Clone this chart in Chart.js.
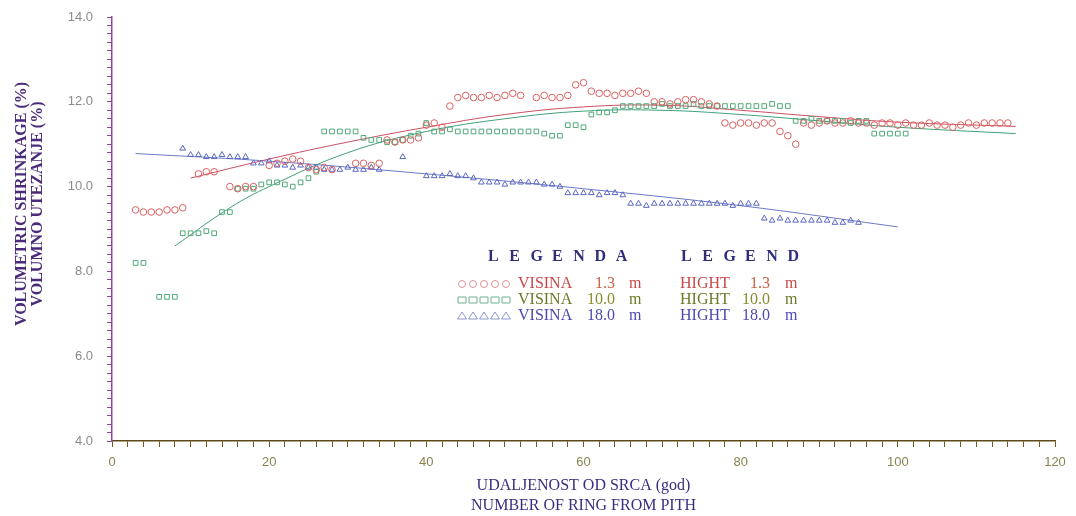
<!DOCTYPE html>
<html>
<head>
<meta charset="utf-8">
<script src="https://cdn.jsdelivr.net/npm/chart.js@4/dist/chart.umd.min.js"></script>
<style>
  html, body { margin: 0; padding: 0; background: #fff; }
  #wrap { width: 1076px; height: 516px; }
</style>
</head>
<body>
<div id="wrap"><canvas id="chart" width="1076" height="516"></canvas></div>
<script>
// visina 1.3 m (krugovi)
const ring13 = [3,4,5,6,7,8,9, 11,12,13, 15,16,17,18, 20,21,22,23,24, 25,26,27,28, 31,32,33,34,
  35,36,37,38,39, 40,41,42, 43,44,45,46,47,48,49,50,51,52, 54,55,56,57,58, 59,60,
  61,62,63,64,65,66,67,68, 69,70,71,72,73,74,75,76,77, 78,79,80,81,82,83,84, 85,86,87,
  88,89,90,91,92,93,94,95,96,97,98,99,100,101,102,103,104,105,106,107,108,109,110,111,112,113,114];
const shrink13 = [9.45,9.4,9.4,9.4,9.45,9.45,9.5, 10.3,10.35,10.35, 10.0,9.95,10.0,10.0,
  10.5,10.55,10.6,10.65,10.6, 10.45,10.4,10.45,10.4, 10.55,10.55,10.5,10.55,
  11.1,11.05,11.1,11.1,11.15, 11.45,11.5,11.4, 11.9,12.1,12.15,12.1,12.1,12.15,12.1,12.15,12.2,12.15,
  12.1,12.15,12.1,12.1,12.15, 12.4,12.45, 12.25,12.2,12.2,12.15,12.2,12.2,12.25,12.2,
  12.0,12.0,11.95,12.0,12.05,12.05,12.0,11.95,11.9, 11.5,11.45,11.5,11.5,11.45,11.5,11.5,
  11.3,11.2,11.0,
  11.5,11.45,11.5,11.55,11.5,11.5,11.55,11.5,11.5,11.45,11.5,11.5,11.45,11.5,11.45,11.45,
  11.5,11.45,11.45,11.4,11.45,11.5,11.45,11.5,11.5,11.5,11.5];

// visina 10.0 m (kvadrati)
const ring100 = [3,4, 6,7,8, 9,10,11,12,13, 14,15, 16,17,18, 19,20,21,22,23,24, 25,26,
  27,28,29,30,31, 32,33,34,35,36,37, 38,39, 40, 41,42,43,44,45,46,47,48,49,50,51,52,
  53,54,55,56,57, 58,59,60, 61,62,63,64,
  65,66,67,68,69,70,71,72,73,74,75,76,77,78,79,80,81,82,83,84,85,86,
  87,88,89,90,91,92,93,94,95,96, 97,98,99,100,101];
const shrink100 = [8.2,8.2, 7.4,7.4,7.4, 8.9,8.9,8.9,8.95,8.9, 9.4,9.4, 9.95,9.95,9.95,
  10.05,10.1,10.1,10.05,10.0,10.1, 10.2,10.35,
  11.3,11.3,11.3,11.3,11.3, 11.15,11.1,11.1,11.05,11.05,11.1, 11.2,11.25, 11.5,
  11.3,11.3,11.35,11.3,11.3,11.3,11.3,11.3,11.3,11.3,11.3,11.3,
  11.3,11.3,11.25,11.2,11.2, 11.45,11.45,11.4, 11.7,11.75,11.75,11.8,
  11.9,11.9,11.9,11.9,11.9,11.95,11.9,11.9,11.9,11.95,11.9,11.9,11.9,11.9,11.9,11.9,11.9,11.9,11.9,11.95,11.9,11.9,
  11.55,11.55,11.6,11.55,11.55,11.55,11.55,11.5,11.55,11.55, 11.25,11.25,11.25,11.25,11.25];

// visina 18.0 m (trouglovi)
const ring180 = [9, 10,11,12,13,14,15,16,17, 18,19,20,21, 22,23,24,25,26,27, 28,29,30,31,32,33,34, 37,
  40,41,42,43,44,45,46, 47,48,49,50,51,52,53,54, 55,56,57, 58,59,60,61,62,63,64,65,
  66,67,68,69,70,71,72,73,74,75,76,77,78,79,80,81,82, 83,84,85,86,87,88,89, 90,91,92,93,94,95];
const shrink180 = [10.9, 10.75,10.75,10.7,10.7,10.75,10.7,10.7,10.7, 10.55,10.55,10.6,10.5,
  10.5,10.45,10.5,10.45,10.45,10.4, 10.4,10.4,10.45,10.4,10.4,10.45,10.4, 10.7,
  10.25,10.25,10.25,10.3,10.25,10.25,10.2, 10.1,10.1,10.1,10.05,10.1,10.1,10.1,10.1,
  10.05,10.05,10.0, 9.85,9.85,9.85,9.85,9.8,9.85,9.85,9.8,
  9.6,9.6,9.55,9.6,9.6,9.6,9.6,9.6,9.6,9.6,9.6,9.6,9.6,9.55,9.6,9.6,9.6,
  9.25,9.2,9.25,9.2,9.2,9.2,9.2, 9.2,9.2,9.15,9.15,9.2,9.15];

// izravnate krive (ocitane sa slike)
const fitX13 = [10, 20, 30, 40, 50, 60, 70, 80, 90, 100, 115];
const fitY13 = [10.2, 10.65, 11.05, 11.4, 11.7, 11.88, 11.92, 11.8, 11.65, 11.52, 11.42];
const fitX100 = [8, 15, 20, 30, 40, 50, 60, 70, 80, 90, 100, 115];
const fitY100 = [8.6, 9.5, 10.0, 10.8, 11.3, 11.6, 11.78, 11.8, 11.7, 11.55, 11.4, 11.25];
const fitX180 = [3, 20, 40, 60, 80, 100];
const fitY180 = [10.78, 10.6, 10.3, 9.95, 9.55, 9.05];

const colRed = '#d86060';
const colGreen = '#50aa78';
const colBlue = '#5a68c2';

function pts(xs, ys) {
  return xs.map((x, i) => ({ x: x, y: ys[i] }));
}

// legenda i naslov y ose iscrtani na platnu
const legendPlugin = {
  id: 'legendaText',
  afterDatasetsDraw(chart) {
    const ctx = chart.ctx;
    ctx.save();

    // naslov y ose
    ctx.save();
    ctx.translate(0, 204);
    ctx.rotate(-Math.PI / 2);
    ctx.textAlign = 'center';
    ctx.textBaseline = 'middle';
    ctx.font = 'bold 16px "Liberation Serif"';
    ctx.fillStyle = '#4a2a7a';
    ctx.fillText('VOLUMETRIC SHRINKAGE (%)', 0, 22);
    ctx.fillText('VOLUMNO UTEZANJE (%)', 0, 38);
    ctx.restore();

    ctx.textBaseline = 'middle';
    ctx.textAlign = 'left';
    ctx.font = 'bold 16px "Liberation Serif"';
    ctx.fillStyle = '#2e2e7a';
    const spaced = (s, x, y) => {
      for (let i = 0; i < s.length; i++) ctx.fillText(s[i], x + i * 21.3, y);
    };
    spaced('LEGENDA', 488, 257);
    spaced('LEGEND', 681, 257);

    const rows = [
      { y: 284, color: '#c84848', num: '#c86040', a: '1.3', kind: 'circle', mk: '#e09090' },
      { y: 300, color: '#6a7a28', num: '#8a8a30', a: '10.0', kind: 'rect', mk: '#70b090' },
      { y: 316, color: '#4a4ab0', num: '#4a4ab0', a: '18.0', kind: 'triangle', mk: '#8898d0' }
    ];
    ctx.font = '16px "Liberation Serif"';
    rows.forEach(r => {
      ctx.strokeStyle = r.mk;
      ctx.lineWidth = 1;
      for (let i = 0; i < 5; i++) {
        const cx = 462 + i * 11, cy = r.y;
        ctx.beginPath();
        if (r.kind === 'circle') ctx.arc(cx, cy, 3.5, 0, Math.PI * 2);
        else if (r.kind === 'rect') ctx.rect(cx - 4, cy - 3, 8, 6);
        else { ctx.moveTo(cx, cy - 4); ctx.lineTo(cx + 4.5, cy + 3); ctx.lineTo(cx - 4.5, cy + 3); ctx.closePath(); }
        ctx.stroke();
      }
      ctx.fillStyle = r.color;
      ctx.textAlign = 'left';
      ctx.fillText('VISINA', 518, r.y);
      ctx.fillText('HIGHT', 680, r.y);
      ctx.fillStyle = r.num;
      ctx.textAlign = 'right';
      ctx.fillText(r.a, 615, r.y);
      ctx.fillText(r.a, 770, r.y);
      ctx.fillStyle = r.color;
      ctx.textAlign = 'left';
      ctx.fillText('m', 629, r.y);
      ctx.fillText('m', 785, r.y);
    });
    ctx.restore();
  }
};

const isMajor = (v, step) => Math.abs(v / step - Math.round(v / step)) < 1e-6;

new Chart(document.getElementById('chart'), {
  type: 'scatter',
  data: {
    datasets: [
      { label: 'VISINA 1.3 m', data: pts(ring13, shrink13), pointStyle: 'circle', pointRadius: 3.3,
        borderColor: colRed, backgroundColor: 'rgba(0,0,0,0)', borderWidth: 1 },
      { label: 'VISINA 10.0 m', data: pts(ring100, shrink100), pointStyle: 'rect', pointRadius: 3.3,
        borderColor: colGreen, backgroundColor: 'rgba(0,0,0,0)', borderWidth: 1 },
      { label: 'VISINA 18.0 m', data: pts(ring180, shrink180), pointStyle: 'triangle', pointRadius: 3.3,
        borderColor: colBlue, backgroundColor: 'rgba(0,0,0,0)', borderWidth: 1 },
      { label: 'fit 1.3', data: pts(fitX13, fitY13), showLine: true, pointRadius: 0, tension: 0.4,
        borderColor: '#c85060', borderWidth: 1 },
      { label: 'fit 10.0', data: pts(fitX100, fitY100), showLine: true, pointRadius: 0, tension: 0.4,
        borderColor: '#40a078', borderWidth: 1 },
      { label: 'fit 18.0', data: pts(fitX180, fitY180), showLine: true, pointRadius: 0, tension: 0.4,
        borderColor: '#6a78c8', borderWidth: 1 }
    ]
  },
  options: {
    responsive: false,
    animation: false,
    layout: { padding: { left: 0, right: 21, top: 17, bottom: 0 } },
    plugins: { legend: { display: false }, tooltip: { enabled: false } },
    scales: {
      x: {
        type: 'linear', min: 0, max: 120,
        afterFit: s => { s.height = 75; },
        border: { color: '#5a4a18', width: 1.5 },
        grid: { drawOnChartArea: false, tickLength: 6, color: '#6a5a20', lineWidth: 1 },
        ticks: {
          stepSize: 2, autoSkip: false, maxRotation: 0, padding: 8,
          color: '#8a8450', font: { family: 'Liberation Sans', size: 13 },
          callback: v => isMajor(v, 20) ? String(Math.round(v)) : ''
        },
        title: {
          display: true, text: ['UDALJENOST OD SRCA (god)', 'NUMBER OF RING FROM PITH'],
          color: '#3a2e80', font: { family: 'Liberation Serif', size: 16, lineHeight: 1.25 },
          padding: { top: 4, bottom: 0 }
        }
      },
      y: {
        type: 'linear', min: 4, max: 14,
        afterFit: s => { s.width = 112; },
        border: { color: '#8a4a9a', width: 1.5 },
        grid: { drawOnChartArea: false, tickLength: 5, color: '#8a4a9a', lineWidth: 1 },
        ticks: {
          stepSize: 0.2, autoSkip: false, padding: 14,
          color: '#8a8a8a', font: { family: 'Liberation Sans', size: 13, lineHeight: 0.4 },
          callback: v => isMajor(v, 2) ? v.toFixed(1) : ''
        },
        title: { display: false }
      }
    }
  },
  plugins: [legendPlugin]
});
</script>
</body>
</html>
